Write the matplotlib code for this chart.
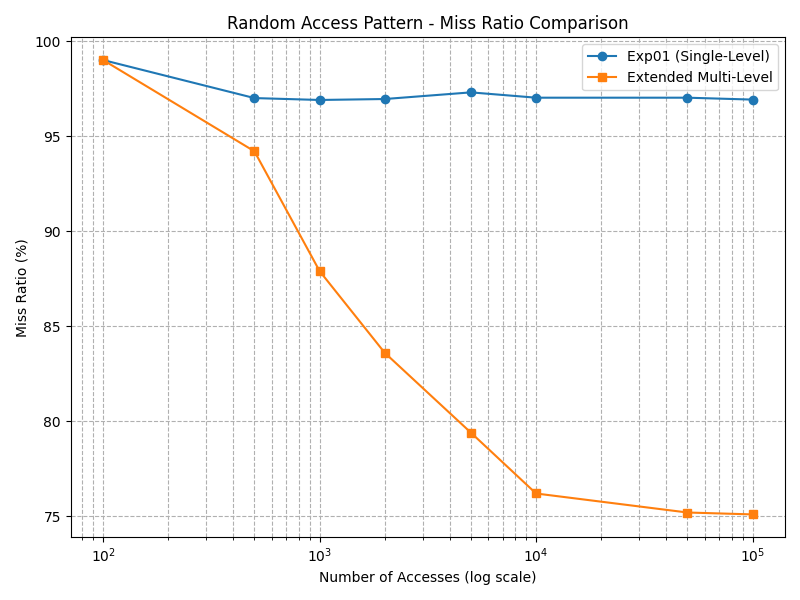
import matplotlib
matplotlib.use("Agg")
import matplotlib.pyplot as plt

accesses = [100, 500, 1000, 2000, 5000, 10000, 50000, 100000]
single_level = [99.0, 97.0, 96.9, 96.95, 97.3, 97.02, 97.02, 96.92]
multi_level = [99.0, 94.2, 87.9, 83.6, 79.4, 76.2, 75.2, 75.1]

fig, ax = plt.subplots(figsize=(8, 6), dpi=100)
ax.plot(accesses, single_level, marker="o", label="Exp01 (Single-Level)")
ax.plot(accesses, multi_level, marker="s", label="Extended Multi-Level")
ax.set_xscale("log")
ax.set_title("Random Access Pattern - Miss Ratio Comparison")
ax.set_xlabel("Number of Accesses (log scale)")
ax.set_ylabel("Miss Ratio (%)")
ax.grid(True, which="both", linestyle="--")
ax.legend()
fig.tight_layout()
fig.savefig("out.png")
